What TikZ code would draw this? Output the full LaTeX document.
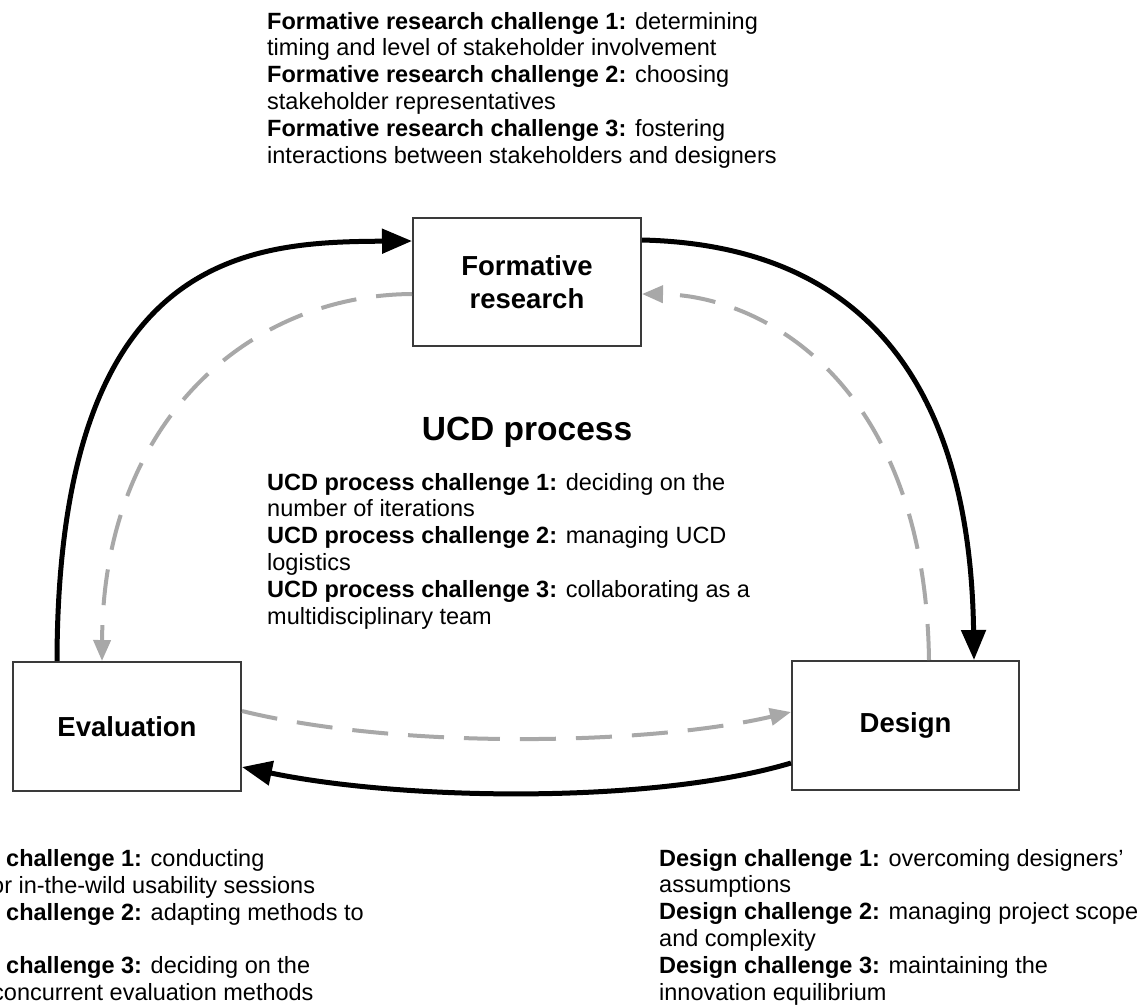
\documentclass[tikz,border=0pt]{standalone}
\usepackage{fontspec}
\setmainfont{Liberation Sans}
\usetikzlibrary{arrows.meta}
\definecolor{dgray}{HTML}{A8A8A8}
\definecolor{boxline}{HTML}{3A3A3A}
\tikzset{
  stagebox/.style={draw=boxline, line width=2pt, fill=white, minimum width=228pt, minimum height=128pt,
    align=center, inner sep=0pt, font=\fontsize{27.5}{33}\selectfont\bfseries},
  bodytext/.style={anchor=base west, align=left, inner sep=0pt, font=\fontsize{23.5}{26.8}\selectfont},
  titletext/.style={anchor=base, inner sep=0pt, font=\fontsize{33.5}{40}\selectfont\bfseries},
  mainflow/.style={line width=5pt, draw=black, -{Triangle[length=30pt,width=24pt]}},
  backflow/.style={line width=4pt, draw=dgray, dash pattern=on 36pt off 20pt,
    -{Triangle[length=21pt,width=17pt,fill=dgray]}},
}
\begin{document}
\begin{tikzpicture}[x=1pt,y=-1pt]
\useasboundingbox (0,0) rectangle (1145,1005);
\fill[white] (0,0) rectangle (1145,1005);
\clip (0,0) rectangle (1145,1005);

% stage boxes
\node[stagebox] (F) at (527,282) {Formative\\research};
\node[stagebox, minimum height=129pt] (E) at (127,726.5) {Evaluation};
\node[stagebox, minimum width=227pt, minimum height=129pt] (D) at (905.5,725.5) {Design};

% challenge texts (anchored at the baseline of their last line)
\node[bodytext] (ftext) at (267,163) {\textbf{Formative research challenge 1:} determining\\
timing and level of stakeholder involvement\\
\textbf{Formative research challenge 2:} choosing\\
stakeholder representatives\\
\textbf{Formative research challenge 3:} fostering\\
interactions between stakeholders and designers};

\node[titletext] (ucd) at (527,440) {UCD process};

\node[bodytext] (utext) at (267,624) {\textbf{UCD process challenge 1:} deciding on the\\
number of iterations\\
\textbf{UCD process challenge 2:} managing UCD\\
logistics\\
\textbf{UCD process challenge 3:} collaborating as a\\
multidisciplinary team};

\node[bodytext] (dtext) at (659,1000) {\textbf{Design challenge 1:} overcoming designers'\\
assumptions\\
\textbf{Design challenge 2:} managing project scope\\
and complexity\\
\textbf{Design challenge 3:} maintaining the\\
innovation equilibrium};

\node[bodytext] (etextA) at (6,920) {\textbf{challenge 1:} conducting\\
\hspace*{-15pt}or in-the-wild usability sessions\\
\textbf{challenge 2:} adapting methods to};
\node[bodytext] (etextB) at (6,1000) {\textbf{challenge 3:} deciding on the\\
\hspace*{-14pt}concurrent evaluation methods};

% main (black) cycle
\draw[mainflow] ([xshift=45pt]E.north west) .. controls (58,250) and (250,242) .. ([yshift=-24pt]F.north west);
\draw[mainflow] ([yshift=-23pt]F.north east) .. controls (860,245) and (970,380) .. ([xshift=-46pt]D.north east);
\draw[mainflow] ([yshift=28pt]D.south west) .. controls (650,805) and (400,800) .. ([yshift=25pt]E.south east);

% back (grey dashed) cycle
\draw[backflow] ([yshift=-77pt]F.north west) .. controls (250,295) and (103,420) .. ([xshift=90pt]E.north west);
\draw[backflow] ([xshift=-91pt]D.north east) .. controls (925,380) and (760,295) .. ([yshift=-77pt]F.north east);
\draw[backflow] ([yshift=-50pt]E.north east) .. controls (400,750) and (650,745) .. ([yshift=-52pt]D.north west);
\end{tikzpicture}
\end{document}
